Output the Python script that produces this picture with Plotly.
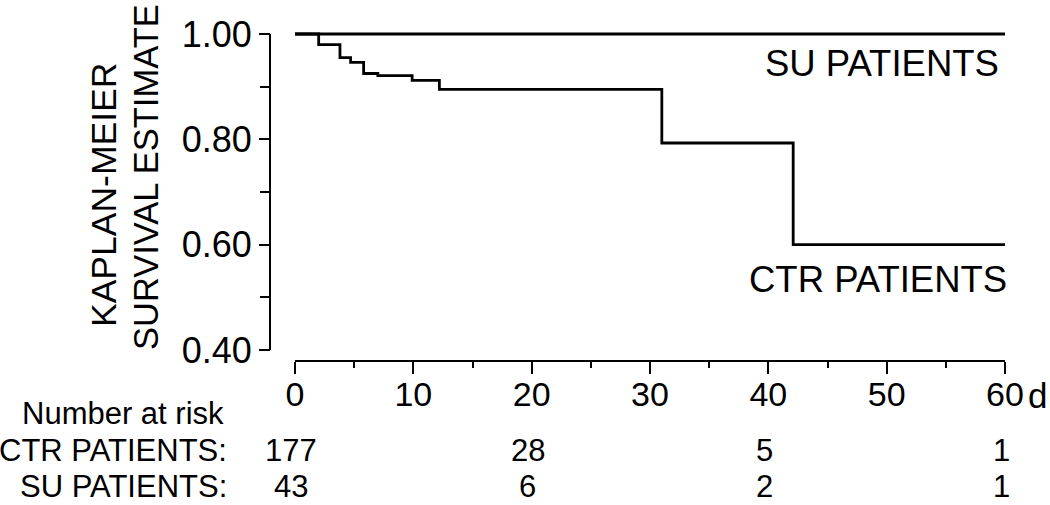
import plotly.graph_objects as go

# ---- data ----
su_days = [0, 60]
su_surv = [1.00, 1.00]

ctr_days = [0, 2, 3.8, 4.7, 5.8, 7.0, 9.9, 12.2, 31, 42.1, 60]
ctr_surv = [1.00, 0.980, 0.955, 0.946, 0.925, 0.921, 0.912, 0.895, 0.793, 0.600, 0.600]

x_ticks = [0, 10, 20, 30, 40, 50, 60]
y_ticks = [0.40, 0.60, 0.80, 1.00]

risk_days = [0, 20, 40, 60]
risk_ctr = [177, 28, 5, 1]
risk_su = [43, 6, 2, 1]

FONT = "Arial, Liberation Sans, sans-serif"

# ---- layout geometry (pixels) ----
W, H = 1050, 505
L, R, T, B = 270, 45, 26, 144
PW, PH = W - L - R, H - T - B
Y_TOP_PIX, Y_BOT_PIX = 34, 350          # pixel rows of y=1.00 and y=0.40
Y_PER_PIX = (1.0 - 0.4) / (Y_BOT_PIX - Y_TOP_PIX)
Y_MAX = 1.0 + (Y_TOP_PIX - T) * Y_PER_PIX


def px(xpix):
    return (xpix - L) / PW


def py(ypix):
    return (H - B - ypix) / PH


fig = go.Figure()
fig.add_trace(go.Scatter(x=su_days, y=su_surv, mode="lines", line=dict(color="black", width=2.8, shape="hv"),
                         showlegend=False, hoverinfo="skip"))
fig.add_trace(go.Scatter(x=ctr_days, y=ctr_surv, mode="lines", line=dict(color="black", width=2.8, shape="hv"),
                         showlegend=False, hoverinfo="skip"))

TXT = dict(color="black", family=FONT)
annotations = []
# curve labels
annotations.append(dict(x=px(1001), y=py(63), xref="paper", yref="paper", text="SU PATIENTS",
                        xanchor="right", yanchor="middle", showarrow=False, font=dict(size=36.5, **TXT)))
annotations.append(dict(x=px(1009), y=py(279), xref="paper", yref="paper", text="CTR PATIENTS",
                        xanchor="right", yanchor="middle", showarrow=False, font=dict(size=36.5, **TXT)))
# y title (two rotated lines)
annotations.append(dict(x=px(104), y=py(195), xref="paper", yref="paper", text="KAPLAN-MEIER", textangle=-90,
                        xanchor="center", yanchor="middle", showarrow=False, font=dict(size=35.5, **TXT)))
annotations.append(dict(x=px(146), y=py(177), xref="paper", yref="paper", text="SURVIVAL ESTIMATE", textangle=-90,
                        xanchor="center", yanchor="middle", showarrow=False, font=dict(size=34.5, **TXT)))
# unit "d"
annotations.append(dict(x=px(1026), y=py(395), xref="paper", yref="paper", text="d",
                        xanchor="left", yanchor="middle", showarrow=False, font=dict(size=35, **TXT)))
# number at risk table
annotations.append(dict(x=px(226), y=py(413), xref="paper", yref="paper", text="Number at risk",
                        xanchor="right", yanchor="middle", showarrow=False, font=dict(size=31, **TXT)))
annotations.append(dict(x=px(229), y=py(450), xref="paper", yref="paper", text="CTR PATIENTS:",
                        xanchor="right", yanchor="middle", showarrow=False, font=dict(size=31, **TXT)))
annotations.append(dict(x=px(229), y=py(486), xref="paper", yref="paper", text="SU PATIENTS:",
                        xanchor="right", yanchor="middle", showarrow=False, font=dict(size=31, **TXT)))
for d, n in zip(risk_days, risk_ctr):
    annotations.append(dict(x=d, y=py(450), xref="x", yref="paper", text=str(n), xshift=-4,
                            xanchor="center", yanchor="middle", showarrow=False, font=dict(size=31, **TXT)))
for d, n in zip(risk_days, risk_su):
    annotations.append(dict(x=d, y=py(486), xref="x", yref="paper", text=str(n), xshift=-4,
                            xanchor="center", yanchor="middle", showarrow=False, font=dict(size=31, **TXT)))

# y axis line only between 0.40 and 1.00
shapes = [dict(type="line", xref="paper", yref="y", x0=0, x1=0, y0=y_ticks[0], y1=y_ticks[-1],
               line=dict(color="black", width=2), layer="above")]

fig.update_layout(
    width=W, height=H,
    margin=dict(l=L, r=R, t=T, b=B, pad=0, autoexpand=False),
    paper_bgcolor="white", plot_bgcolor="white",
    font=dict(family=FONT, color="black"),
    annotations=annotations,
    shapes=shapes,
    xaxis=dict(
        domain=[px(295), 1], range=[0, 60], anchor="free", position=0, automargin=False,
        tickvals=x_ticks, ticktext=[str(v) for v in x_ticks],
        showline=True, linecolor="black", linewidth=2,
        ticks="outside", ticklen=12, tickwidth=2, tickcolor="black", ticklabelstandoff=-9,
        minor=dict(dtick=5, tick0=0, ticks="outside", ticklen=6, tickwidth=2, tickcolor="black"),
        showgrid=False, zeroline=False, tickfont=dict(size=34, **TXT),
    ),
    yaxis=dict(
        domain=[py(Y_BOT_PIX), 1], range=[0.4, Y_MAX], anchor="free", position=0, automargin=False,
        tickvals=y_ticks, ticktext=[f"{v:.2f}" for v in y_ticks],
        showline=False,
        ticks="outside", ticklen=11, tickwidth=2, tickcolor="black",
        minor=dict(tickvals=[0.5, 0.7, 0.9], ticks="outside", ticklen=10, tickwidth=2, tickcolor="black"),
        showgrid=False, zeroline=False, tickfont=dict(size=36, **TXT),
    ),
)

fig.write_html("out.html", config={"displayModeBar": False},
               post_script="document.body.style.margin='0';document.body.style.overflow='hidden';")
